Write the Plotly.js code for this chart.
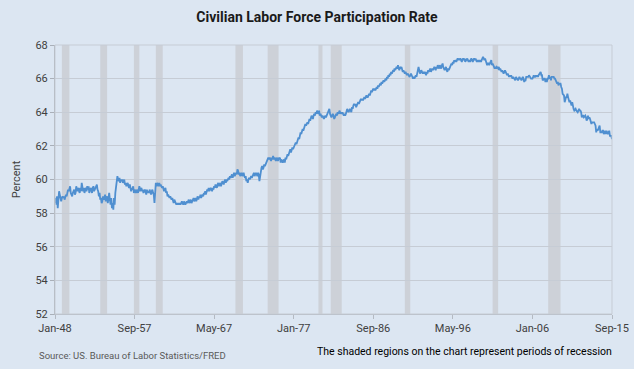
<!DOCTYPE html>
<html>
<head>
<meta charset="utf-8">
<script src="https://cdn.plot.ly/plotly-3.0.1.min.js"></script>
<style>html,body{margin:0;padding:0;background:#dce6f2;}#chart{width:634px;height:369px;}</style>
</head>
<body>
<div id="chart"></div>
<script>
// Civilian Labor Force Participation Rate, monthly, Jan 1948 - Sep 2015 (percent)
const startYear = 1948;
const rate = [
58.6,58.9,58.5,59.0,58.3,59.2,59.3,59.1,58.9,58.7,58.9,59.0,
58.9,59.0,58.8,59.0,59.1,59.0,59.2,59.4,59.3,59.5,59.6,59.2,
59.1,59.0,59.2,59.3,59.4,59.1,59.2,59.6,59.3,59.4,59.5,59.3,
59.2,59.5,59.3,59.8,59.4,59.3,59.5,59.2,59.4,59.5,59.3,59.6,
59.4,59.6,59.2,59.3,59.5,59.4,59.2,59.5,59.6,59.3,59.4,59.5,
59.6,59.7,59.4,59.3,59.0,59.2,58.8,58.9,58.6,58.7,59.0,58.8,
58.9,59.1,58.7,58.8,59.0,58.6,58.9,59.2,58.8,58.5,58.9,58.3,
58.6,58.2,58.9,58.5,59.2,59.6,60.1,60.2,60.0,59.9,60.1,59.8,
60.0,59.9,60.0,59.8,59.9,60.0,59.7,59.8,59.6,59.7,59.8,59.6,
59.5,59.7,59.4,59.3,59.5,59.4,59.6,59.2,59.3,59.4,59.2,59.3,
59.4,59.2,59.5,59.6,59.3,59.4,59.5,59.3,59.4,59.2,59.3,59.4,
59.3,59.1,59.4,59.2,59.3,59.2,59.4,59.3,59.1,59.3,59.4,59.2,
59.1,58.6,59.5,59.8,59.6,59.8,59.7,59.6,59.8,59.6,59.7,59.6,
59.5,59.6,59.4,59.3,59.4,59.5,59.2,59.3,59.0,59.1,59.0,58.9,
59.0,58.9,58.8,58.9,58.7,58.6,58.8,58.7,58.6,58.5,58.6,58.5,
58.6,58.5,58.6,58.5,58.6,58.7,58.6,58.5,58.7,58.6,58.5,58.6,
58.7,58.6,58.7,58.8,58.6,58.7,58.8,58.6,58.7,58.8,58.9,58.7,
58.8,58.9,58.7,58.9,59.0,58.8,59.0,58.9,59.1,58.9,59.0,59.1,
59.0,59.2,59.1,59.3,59.1,59.2,59.4,59.3,59.5,59.3,59.4,59.5,
59.4,59.3,59.5,59.4,59.6,59.5,59.7,59.6,59.5,59.7,59.8,59.6,
59.7,59.8,59.6,59.7,59.9,59.8,59.7,59.9,60.0,59.8,60.0,59.9,
60.0,60.1,60.0,60.2,60.1,60.2,60.3,60.1,60.2,60.4,60.2,60.3,
60.4,60.3,60.6,60.5,60.3,60.4,60.2,60.3,60.4,60.2,60.3,60.4,
60.2,60.1,60.2,59.9,60.0,59.8,60.0,60.1,60.0,60.1,60.2,60.1,
60.2,60.3,60.4,60.2,60.3,60.4,60.3,60.2,60.4,60.3,59.9,60.3,
60.5,60.7,60.8,60.6,60.7,60.9,60.8,60.9,61.0,61.1,61.2,61.3,
61.2,61.3,61.2,61.1,61.3,61.2,61.4,61.2,61.3,61.2,61.1,61.3,
61.2,61.1,61.3,61.2,61.3,61.0,61.2,61.1,61.0,61.1,61.2,61.0,
61.3,61.2,61.4,61.5,61.4,61.6,61.7,61.8,61.6,61.7,61.9,61.8,
61.9,62.0,62.1,62.2,62.1,62.3,62.4,62.5,62.4,62.6,62.8,62.7,
62.9,63.0,62.9,63.1,63.2,63.3,63.2,63.3,63.4,63.3,63.5,63.6,
63.5,63.7,63.8,63.7,63.6,63.8,63.9,63.8,64.0,63.9,64.1,64.0,
63.9,64.1,63.8,63.9,63.8,63.7,63.8,63.7,63.6,63.7,63.8,63.7,
63.8,63.9,64.0,64.1,64.2,63.9,63.8,63.7,63.8,63.9,63.8,63.6,
63.7,63.8,63.9,63.8,64.0,63.9,64.0,64.1,63.9,64.0,63.9,64.0,
63.9,63.8,63.9,63.8,63.9,64.1,64.2,64.1,64.0,64.1,64.2,64.1,
64.0,64.3,64.2,64.4,64.5,64.4,64.5,64.3,64.4,64.5,64.6,64.5,
64.6,64.7,64.8,64.7,64.8,64.7,64.8,64.9,64.8,64.9,65.0,64.9,
64.9,65.0,65.1,65.0,65.2,65.3,65.2,65.3,65.4,65.3,65.4,65.3,
65.4,65.5,65.4,65.6,65.5,65.6,65.7,65.6,65.8,65.7,65.8,65.9,
65.8,65.9,66.0,65.9,66.1,66.0,66.2,66.1,66.3,66.2,66.4,66.3,
66.4,66.5,66.4,66.6,66.5,66.6,66.7,66.6,66.8,66.6,66.5,66.7,
66.6,66.7,66.5,66.4,66.5,66.4,66.3,66.4,66.3,66.2,66.3,66.2,
66.2,66.1,66.2,66.3,66.2,66.1,66.0,66.1,66.0,66.1,66.2,66.1,
66.3,66.5,66.7,66.5,66.3,66.4,66.5,66.4,66.3,66.4,66.3,66.4,
66.3,66.2,66.4,66.3,66.5,66.4,66.5,66.6,66.4,66.5,66.6,66.5,
66.6,66.7,66.6,66.5,66.7,66.6,66.8,66.7,66.6,66.8,66.7,66.6,
66.8,66.9,66.7,66.6,66.5,66.6,66.7,66.5,66.4,66.6,66.5,66.6,
66.7,66.8,66.9,66.8,67.0,66.9,67.1,67.0,67.1,67.0,67.1,67.2,
67.1,67.2,67.1,67.2,67.1,67.0,67.1,67.2,67.1,67.2,67.0,67.1,
67.1,67.2,67.1,67.0,67.1,67.0,67.1,67.2,67.1,67.0,67.1,67.2,
67.1,67.2,67.1,67.0,67.1,67.0,67.1,67.0,67.1,67.0,67.1,67.2,
67.3,67.2,67.1,67.2,67.1,67.0,66.8,66.9,66.9,66.8,66.9,67.0,
67.1,66.8,66.9,66.8,66.7,66.6,66.7,66.6,66.7,66.6,66.6,66.7,
66.5,66.6,66.5,66.4,66.5,66.4,66.3,66.4,66.5,66.4,66.3,66.2,
66.3,66.2,66.1,66.2,66.1,66.2,66.1,66.0,66.1,66.0,66.0,65.9,
66.1,66.0,66.0,65.9,66.0,66.1,66.0,66.0,65.9,66.0,66.1,66.0,
65.8,65.9,65.9,66.1,66.1,66.1,66.1,66.2,66.1,66.1,66.0,66.0,
66.0,66.1,66.2,66.1,66.1,66.2,66.1,66.2,66.1,66.2,66.3,66.4,
66.4,66.2,66.2,65.9,66.0,66.0,66.0,65.8,66.0,65.8,66.0,66.0,
66.2,66.0,66.1,65.9,66.1,66.1,66.1,66.1,66.0,66.0,65.9,65.8,
65.7,65.8,65.6,65.7,65.7,65.7,65.5,65.4,65.1,65.0,65.0,64.6,
64.8,64.9,64.9,65.1,64.9,64.6,64.6,64.7,64.6,64.4,64.6,64.3,
64.2,64.1,64.2,64.2,64.1,64.0,64.0,64.1,64.2,64.1,64.1,64.0,
63.7,63.8,63.8,63.7,63.8,63.8,63.7,63.5,63.6,63.8,63.6,63.7,
63.6,63.4,63.3,63.4,63.4,63.4,63.4,63.3,63.2,62.8,63.0,62.9,
63.0,63.0,63.2,62.8,62.8,62.8,62.9,62.9,62.7,62.8,62.9,62.7,
62.9,62.8,62.7,62.8,62.9,62.6,62.6,62.6,62.4
];

// x tick positions and labels
const tickDates  = ["1948-01-01","1957-09-01","1967-05-01","1977-01-01","1986-09-01","1996-05-01","2006-01-01","2015-09-01"];
const tickLabels = ["Jan-48","Sep-57","May-67","Jan-77","Sep-86","May-96","Jan-06","Sep-15"];

// Recession periods (NBER peak -> trough)
const recStart = ["1948-11-01","1953-07-01","1957-08-01","1960-04-01","1969-12-01","1973-11-01","1980-01-01","1981-07-01","1990-07-01","2001-03-01","2007-12-01"];
const recEnd   = ["1949-10-01","1954-05-01","1958-04-01","1961-02-01","1970-11-01","1975-03-01","1980-07-01","1982-11-01","1991-03-01","2001-11-01","2009-06-01"];

const yTicks = [52,54,56,58,60,62,64,66,68];

// month dates for each observation
const dates = rate.map((v, i) => {
  const y = startYear + Math.floor(i / 12);
  const m = (i % 12) + 1;
  return y + "-" + (m < 10 ? "0" + m : m) + "-01";
});

const font = "Roboto, Arial, sans-serif";

const shapes = recStart.map((s, i) => ({
  type: "rect", xref: "x", yref: "paper", x0: s, x1: recEnd[i], y0: 0, y1: 1,
  fillcolor: "#cdd1d8", line: {width: 0}, layer: "below"
}));
shapes.push({type: "rect", xref: "paper", yref: "paper", x0: 0, x1: 1, y0: 0, y1: 1,
  line: {color: "#c6ccd5", width: 1}, fillcolor: "rgba(0,0,0,0)", layer: "above"});

const trace = {
  x: dates, y: rate, type: "scatter", mode: "lines",
  line: {color: "#4f8fd0", width: 1.8}, hoverinfo: "skip"
};

const layout = {
  width: 634, height: 369,
  paper_bgcolor: "#dce6f2", plot_bgcolor: "#dce6f2",
  margin: {l: 55, r: 22, t: 45, b: 55},
  showlegend: false,
  title: {text: "<b>Civilian Labor Force Participation Rate</b>", x: 0.5, xanchor: "center", y: 0.955, yanchor: "middle",
          font: {family: font, size: 14, color: "#1a1a1a"}},
  xaxis: {
    type: "date", range: ["1948-01-01", "2015-09-01"],
    tickvals: tickDates, ticktext: tickLabels,
    tickfont: {family: font, size: 11, color: "#404040"},
    showgrid: false, zeroline: false,
    showline: true, linecolor: "#b4bac3", linewidth: 1,
    ticks: "outside", ticklen: 4, tickcolor: "#b4bac3"
  },
  yaxis: {
    range: [52, 68], tickvals: yTicks, ticktext: yTicks.map(String),
    tickfont: {family: font, size: 11, color: "#404040"},
    showgrid: true, gridcolor: "#c6ccd5", gridwidth: 1, zeroline: false,
    showline: true, linecolor: "#a9afb8", linewidth: 1,
    ticks: "outside", ticklen: 4, tickcolor: "#a9afb8",
    title: {text: "Percent", font: {family: font, size: 11, color: "#404040"}, standoff: 12}
  },
  shapes: shapes,
  annotations: [
    {text: "Source: US. Bureau of Labor Statistics/FRED", xref: "paper", yref: "paper",
     x: -0.032, y: -0.155, xanchor: "left", yanchor: "middle", showarrow: false,
     font: {family: font, size: 9.5, color: "#595959"}},
    {text: "The shaded regions on the chart represent periods of recession", xref: "paper", yref: "paper",
     x: 1.003, y: -0.14, xanchor: "right", yanchor: "middle", showarrow: false,
     font: {family: font, size: 10.5, color: "#000000"}}
  ]
};

Plotly.newPlot("chart", [trace], layout, {displayModeBar: false, staticPlot: true});
</script>
</body>
</html>
